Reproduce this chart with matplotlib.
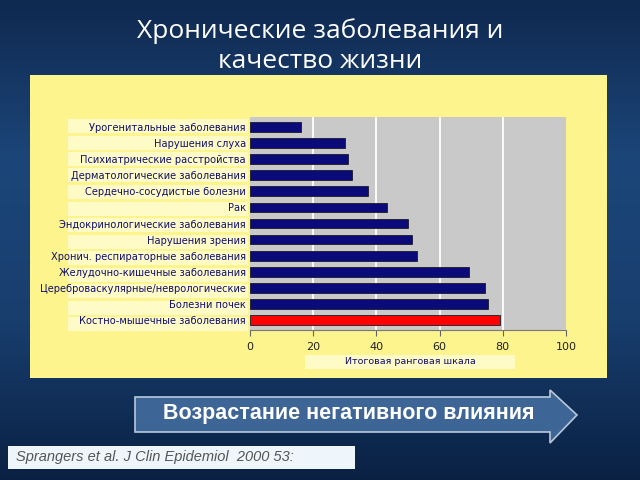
import numpy as np
import matplotlib
matplotlib.use('Agg')
import matplotlib.pyplot as plt
from matplotlib.patches import Rectangle, Polygon

title = 'Хронические заболевания и\nкачество жизни'
categories = [
    'Урогенитальные заболевания',
    'Нарушения слуха',
    'Психиатрические расстройства',
    'Дерматологические заболевания',
    'Сердечно-сосудистые болезни',
    'Рак',
    'Эндокринологические заболевания',
    'Нарушения зрения',
    'Хронич. респираторные заболевания',
    'Желудочно-кишечные заболевания',
    'Цереброваскулярные/неврологические',
    'Болезни почек',
    'Костно-мышечные заболевания',
]
scores = [16, 30, 31, 32.4, 37.3, 43.3, 50, 51.4, 52.9, 69.3, 74.4, 75.3, 79]
x_ticks = [0, 20, 40, 60, 80, 100]
x_label = 'Итоговая ранговая шкала'
arrow_text = 'Возрастание негативного влияния'
source = 'Sprangers et al. J Clin Epidemiol  2000 53:'

W, H = 640, 480


def fx(x):
    return x / W


def fy(y):
    return 1 - y / H


fig = plt.figure(figsize=(6.4, 4.8), dpi=100)

# background gradient
bg = fig.add_axes([0, 0, 1, 1])
grad = np.linspace(0, 1, 256).reshape(-1, 1)
cmap = matplotlib.colors.LinearSegmentedColormap.from_list(
    'bg', ['#0f2950', '#1c4679', '#183e6e', '#0a2143'])
bg.imshow(grad, aspect='auto', cmap=cmap, extent=[0, 1, 0, 1])
bg.set_xlim(0, 1)
bg.set_ylim(0, 1)
bg.axis('off')

fig.text(0.5, fy(46), title, ha='center', va='center', color='white',
         fontsize=19, family=['Open Sans', 'DejaVu Sans'],
         linespacing=1.22)

# yellow panel
bg.add_patch(Rectangle((fx(30), fy(378)), fx(607) - fx(30), fy(75) - fy(378),
                       facecolor='#fdf48e', edgecolor='none'))

# label background strips
for i in range(len(categories)):
    yc = 126 + i * 16.5
    bg.add_patch(Rectangle((fx(68), fy(yc + 7)), fx(248) - fx(68), 14 / H,
                           facecolor='#fffbc7', edgecolor='none'))

ax = fig.add_axes([fx(250), fy(330), fx(566) - fx(250), fy(117) - fy(330)])
ypos = np.arange(len(categories))[::-1]
colors = ['#0a0a78'] * (len(categories) - 1) + ['#ff0000']
ax.barh(ypos, scores, height=0.6, color=colors, edgecolor='#1a1a2a',
        linewidth=0.6, zorder=3)
ax.set_facecolor('#c9c9c9')
ax.set_xlim(0, 100)
ax.set_ylim(-0.6, len(categories) - 0.4)
ax.set_xticks(x_ticks)
ax.set_xticklabels([str(t) for t in x_ticks], fontsize=8, color='#222222')
ax.set_yticks(ypos)
ax.set_yticklabels(categories, fontsize=7.1, color='#10106a')
ax.tick_params(axis='y', length=0, pad=3)
ax.tick_params(axis='x', length=4, color='#666666', pad=5)
for x in x_ticks[1:-1]:
    ax.axvline(x, color='white', linewidth=1.3, zorder=1)
for s in ['top', 'right', 'left']:
    ax.spines[s].set_visible(False)
ax.spines['bottom'].set_color('#777777')

# x label box
bg.add_patch(Rectangle((fx(305), fy(369)), fx(515) - fx(305), 14 / H,
                       facecolor='#fffbc7', edgecolor='none'))
fig.text(fx(410), fy(362), x_label, ha='center', va='center',
         fontsize=6.8, color='#10106a')

# arrow
arrow = Polygon([(fx(135), fy(397)), (fx(550), fy(397)), (fx(550), fy(390)),
                 (fx(577), fy(415)), (fx(550), fy(443)), (fx(550), fy(432)),
                 (fx(135), fy(432))],
                closed=True, facecolor='#3d6596', edgecolor='#b8c8da',
                linewidth=1.2)
bg.add_patch(arrow)
fig.text(fx(349), fy(414), arrow_text, ha='center', va='center',
         color='white', fontsize=15.5, fontweight='bold',
         family=['Liberation Sans', 'DejaVu Sans'])

# source box
bg.add_patch(Rectangle((fx(8), fy(469)), fx(355) - fx(8), 23 / H,
                       facecolor='#eef6fb', edgecolor='none'))
fig.text(fx(16), fy(457), source, ha='left', va='center', color='#555555',
         fontsize=10.5, style='italic', family=['Liberation Sans', 'DejaVu Sans'])

fig.savefig('out.png', dpi=100)
